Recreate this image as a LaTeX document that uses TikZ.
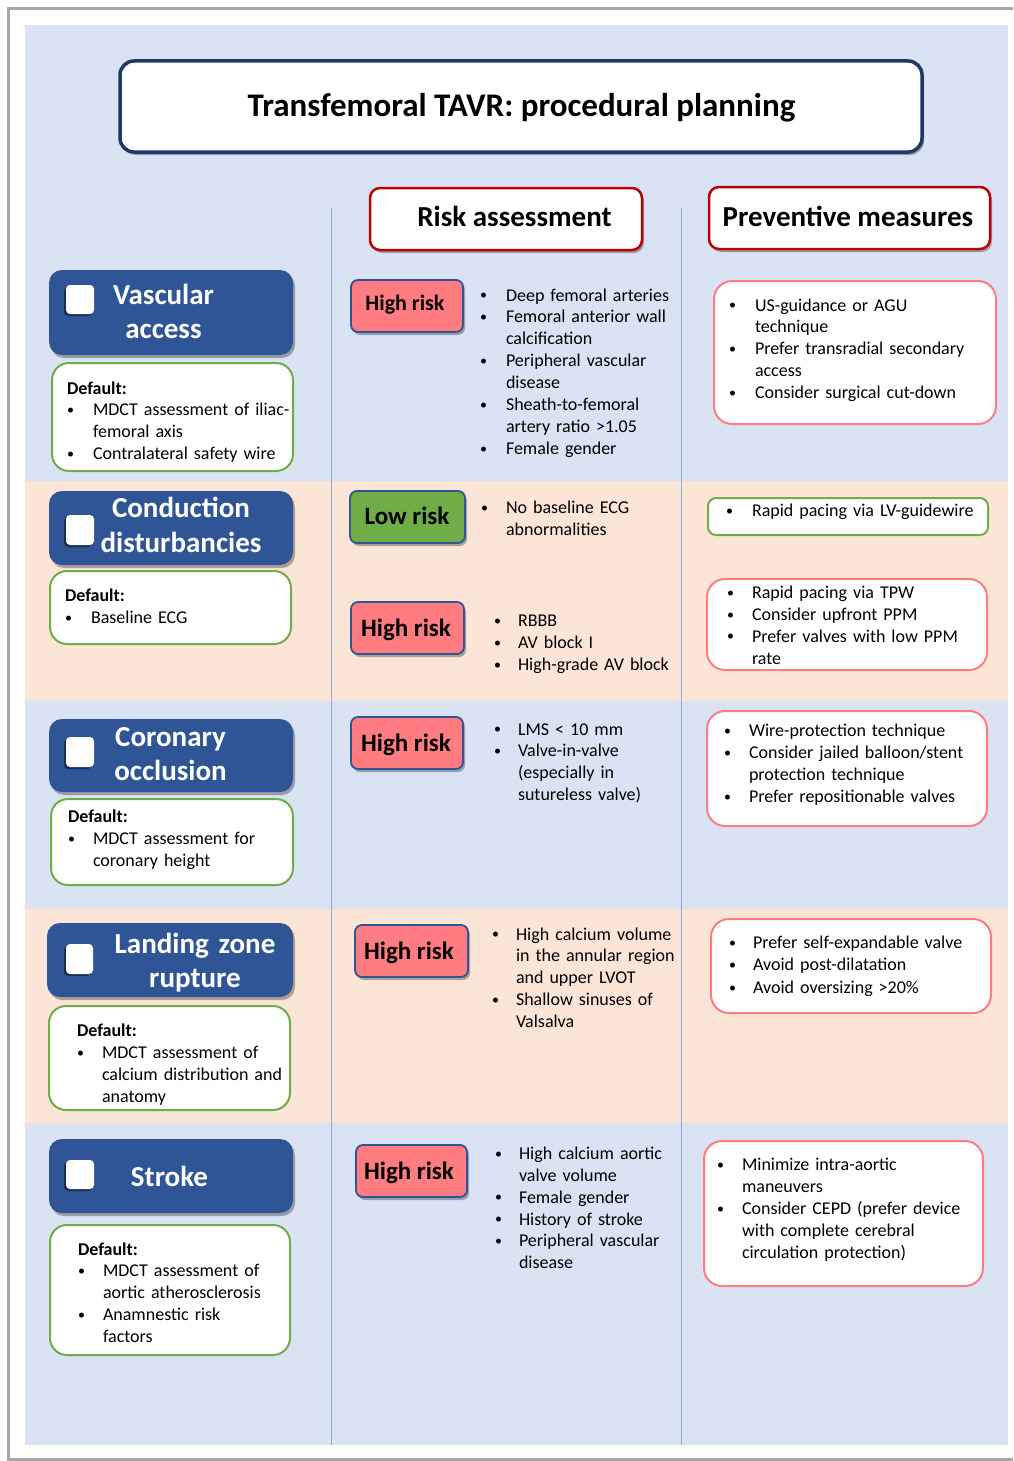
\documentclass[tikz,border=0pt]{standalone}
\usepackage{fontspec}
\setmainfont{Carlito}
\usetikzlibrary{fit,shadows}
\definecolor{navy}{HTML}{1F3864}
\definecolor{hdred}{HTML}{C00000}
\definecolor{catblue}{HTML}{2F5597}
\definecolor{dgreen}{HTML}{70AD47}
\definecolor{pinkred}{HTML}{FF7C80}
\definecolor{bgblue}{HTML}{DAE3F3}
\definecolor{peach}{HTML}{FBE5D6}
\definecolor{vline}{HTML}{8FAADC}
\definecolor{framegray}{HTML}{A6A6A6}
\newlength\bw
\setlength\bw{25pt}
\newcommand\bu[1]{\makebox[\bw][l]{\raisebox{1.2pt}{\fontsize{14}{14}\selectfont\textbullet}}#1}
\newcommand\cn{\hspace*{\bw}}
\tikzset{
  every node/.style={inner sep=0pt, outer sep=0pt},
  shd/.style={drop shadow={shadow xshift=2pt, shadow yshift=-3pt, opacity=0.3, fill=black}},
  framebox/.style={draw=framegray, line width=2.5pt},
  band/.style={fill=#1, draw=none},
  titlebox/.style={draw=navy, line width=3.5pt, fill=white, rounded corners=14pt, shd},
  headbox/.style={draw=hdred, line width=2.5pt, fill=white, rounded corners=10pt, shd},
  catbox/.style={fill=catblue, rounded corners=13pt, shd},
  chk/.style={fill=white, rounded corners=4pt, drop shadow={shadow xshift=-2pt, shadow yshift=-2pt, opacity=0.45, fill=black}},
  defbox/.style={draw=dgreen, line width=2pt, fill=white, rounded corners=17pt},
  badge/.style={draw=catblue, line width=1.8pt, fill=#1, rounded corners=7pt, shd},
  prevbox/.style={draw=#1, line width=2pt, fill=white, rounded corners=18pt},
  divider/.style={draw=vline, line width=1pt},
  body/.style={anchor=base west, align=left, text width=330pt, font=\fontsize{18}{21.9}\selectfont},
  bullw/.code={\setlength\bw{#1}},
  cattxt/.style={anchor=base, text width=260pt, align=center, text=white, font=\fontsize{29}{34.5}\selectfont\bfseries},
  badgetxt/.style={anchor=base, font=\fontsize{25}{25}\selectfont\bfseries},
  headtxt/.style={anchor=base, font=\fontsize{29}{29}\selectfont\bfseries},
}
\begin{document}
\begin{tikzpicture}[x=1pt,y=-1pt]
\useasboundingbox (0,0) rectangle (1013,1461);
\fill[white] (0,0) rectangle (1013,1461);
% frame (open on the right, as it runs off the page) and bands
\draw[framebox] (1013,8.5) -- (8.5,8.5) -- (8.5,1459.5) -- (1013,1459.5);
\node[band=bgblue, fit={(25,25)(1008,1445)}] (bg) {};
\node[band=peach, fit={(25,481)(1008,701)}] (band2) {};
\node[band=peach, fit={(25,909)(1008,1123)}] (band4) {};
\coordinate (v1t) at (331,208); \coordinate (v1b) at (331,1445);
\coordinate (v2t) at (681,208); \coordinate (v2b) at (681,1445);
\draw[divider] (v1t) -- (v1b);
\draw[divider] (v2t) -- (v2b);
% title and headers
\node[titlebox, fit={(120,61)(922,152)}] (titlebox) {};
\node[anchor=base, font=\fontsize{33}{33}\selectfont\bfseries] (title) at (521.5,116.7) {Transfemoral TAVR: procedural planning};
\node[headbox, fit={(370,188)(642,250)}] (riskhead) {};
\node[headtxt] (risktxt) at (514.5,226.7) {Risk assessment};
\node[headbox, fit={(709,187)(990,249)}] (prevhead) {};
\node[headtxt] (prevtxt) at (848,226.7) {Preventive measures};
% ===== Row 1: vascular access
\node[catbox, fit={(49,270)(293,355)}] (cat1) {};
\node[chk, fit={(66,285)(94,314)}] (chk1) {};
\node[cattxt] (cat1t) at (163.5,304) {Vascular\\access};
\node[defbox, fit={(52,363)(293,471)}] (def1) {};
\node[body, bullw=26pt] (def1t) at (67,394) {\textbf{Default:}\\\bu{MDCT assessment of iliac-}\\\cn femoral axis\\\bu{Contralateral safety wire}};
\node[badge=pinkred, fit={(351,280)(463,332)}] (r1) {};
\node[badgetxt, font=\fontsize{22}{22}\selectfont\bfseries] (r1t) at (405,310.7) {High risk};
\node[body, bullw=26pt] (r1l) at (480,301) {\bu{Deep femoral arteries}\\\bu{Femoral anterior wall}\\\cn calcification\\\bu{Peripheral vascular}\\\cn disease\\\bu{Sheath-to-femoral}\\\cn artery ratio >1.05\\\bu{Female gender}};
\node[prevbox=pinkred, fit={(714,281)(996,424)}] (p1) {};
\node[body, bullw=26pt] (p1t) at (729,311) {\bu{US-guidance or AGU}\\\cn technique\\\bu{Prefer transradial secondary}\\\cn access\\\bu{Consider surgical cut-down}};
% ===== Row 2: conduction
\node[catbox, fit={(49,491)(293,565)}] (cat2) {};
\node[chk, fit={(66,515)(94,545)}] (chk2) {};
\node[cattxt] (cat2t) at (181,517.7) {Conduction\\disturbancies};
\node[defbox, fit={(50,571)(291,644)}] (def2) {};
\node[body, bullw=26pt] (def2t) at (65,601.7) {\textbf{Default:}\\\bu{Baseline ECG}};
\node[badge=dgreen, fit={(350,491)(465,543)}] (lr) {};
\node[badgetxt] (lrt) at (407,524.3) {Low risk};
\node[body, bullw=25pt] (lrl) at (481,513.3) {\bu{No baseline ECG}\\\cn abnormalities};
\node[badge=pinkred, fit={(351,602)(464,654)}] (r2) {};
\node[badgetxt] (r2t) at (406,636) {High risk};
\node[body, bullw=24pt] (r2l) at (494,626.7) {\bu{RBBB}\\\bu{AV block I}\\\bu{High-grade AV block}};
\node[prevbox=dgreen, rounded corners=8pt, fit={(708,498)(988,535)}] (p2) {};
\node[body, bullw=26pt] (p2t) at (726,516.7) {\bu{Rapid pacing via LV-guidewire}};
\node[prevbox=pinkred, fit={(707,579)(987,670)}] (p3) {};
\node[body, bullw=25pt] (p3t) at (727,598.3) {\bu{Rapid pacing via TPW}\\\bu{Consider upfront PPM}\\\bu{Prefer valves with low PPM}\\\cn rate};
% ===== Row 3: coronary
\node[catbox, fit={(49,719)(293,792)}] (cat3) {};
\node[chk, fit={(66,737)(94,767)}] (chk3) {};
\node[cattxt] (cat3t) at (170.5,746) {Coronary\\occlusion};
\node[defbox, fit={(51,799)(293,885)}] (def3) {};
\node[body, bullw=25pt] (def3t) at (68,822.7) {\textbf{Default:}\\\bu{MDCT assessment for}\\\cn coronary height};
\node[badge=pinkred, fit={(351,717)(463,769)}] (r3) {};
\node[badgetxt] (r3t) at (406,751.7) {High risk};
\node[body, bullw=24pt] (r3l) at (494,735) {\bu{LMS < 10 mm}\\\bu{Valve-in-valve}\\\cn (especially in\\\cn sutureless valve)};
\node[prevbox=pinkred, fit={(707,711)(987,826)}] (p4) {};
\node[body, bullw=25pt] (p4t) at (724,736.7) {\bu{Wire-protection technique}\\\bu{Consider jailed balloon/stent}\\\cn protection technique\\\bu{Prefer repositionable valves}};
% ===== Row 4: landing zone
\node[catbox, fit={(47,923)(293,997)}] (cat4) {};
\node[chk, fit={(66,944)(93,974)}] (chk4) {};
\node[cattxt] (cat4t) at (195,953.3) {Landing zone\\rupture};
\node[defbox, fit={(49,1006)(290,1110)}] (def4) {};
\node[body, bullw=25pt, font=\fontsize{18}{22.3}\selectfont] (def4t) at (77,1036) {\textbf{Default:}\\\bu{MDCT assessment of}\\\cn calcium distribution and\\\cn anatomy};
\node[badge=pinkred, fit={(355,925)(468,977)}] (r4) {};
\node[badgetxt] (r4t) at (409,959.3) {High risk};
\node[body, bullw=24pt] (r4l) at (492,940) {\bu{High calcium volume}\\\cn in the annular region\\\cn and upper LVOT\\\bu{Shallow sinuses of}\\\cn Valsalva};
\node[prevbox=pinkred, fit={(711,919)(991,1013)}] (p5) {};
\node[body, bullw=24pt, font=\fontsize{18}{22.5}\selectfont] (p5t) at (729,948.3) {\bu{Prefer self-expandable valve}\\\bu{Avoid post-dilatation}\\\bu{Avoid oversizing >20\%}};
% ===== Row 5: stroke
\node[catbox, fit={(49,1139)(293,1213)}] (cat5) {};
\node[chk, fit={(66,1160)(94,1189)}] (chk5) {};
\node[cattxt] (cat5t) at (169.5,1186) {Stroke};
\node[defbox, fit={(50,1225)(290,1355)}] (def5) {};
\node[body, bullw=25pt] (def5t) at (78,1255) {\textbf{Default:}\\\bu{MDCT assessment of}\\\cn aortic atherosclerosis\\\bu{Anamnestic risk}\\\cn factors};
\node[badge=pinkred, fit={(356,1145)(467,1197)}] (r5) {};
\node[badgetxt] (r5t) at (409,1179.3) {High risk};
\node[body, bullw=24pt] (r5l) at (495,1159.3) {\bu{High calcium aortic}\\\cn valve volume\\\bu{Female gender}\\\bu{History of stroke}\\\bu{Peripheral vascular}\\\cn disease};
\node[prevbox=pinkred, fit={(704,1141)(983,1286)}] (p6) {};
\node[body, bullw=25pt] (p6t) at (717,1170.7) {\bu{Minimize intra-aortic}\\\cn maneuvers\\\bu{Consider CEPD (prefer device}\\\cn with complete cerebral\\\cn circulation protection)};
\end{tikzpicture}
\end{document}
